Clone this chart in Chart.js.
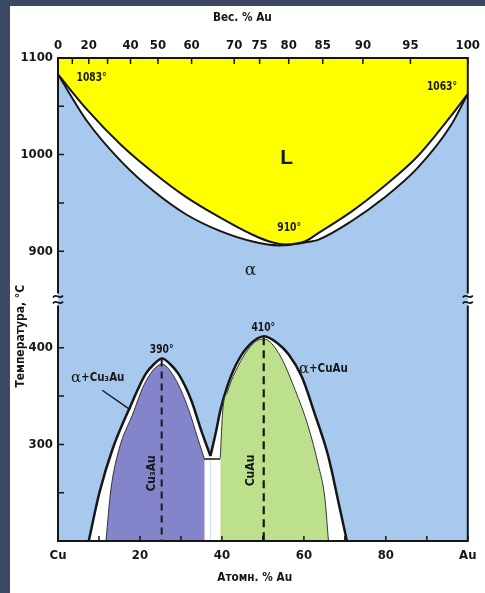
<!DOCTYPE html>
<html>
<head>
<meta charset="utf-8">
<script src="https://cdn.jsdelivr.net/npm/chart.js@4.4.1/dist/chart.umd.min.js"></script>
<style>
  html, body { margin: 0; padding: 0; background: #fff; }
  #wrap { width: 485px; height: 593px; position: relative; }
</style>
</head>
<body>
<div id="wrap"><canvas id="phaseChart"></canvas></div>
<script>
// Cu-Au phase diagram: x = atomic % Au, T = temperature in deg C
const liquidusX = [0, 7.2, 15.4, 23.4, 31.3, 39.5, 47.5, 51.6, 55.4, 60.2, 63.6, 71.6, 79.5, 87.7, 95.7, 100];
const liquidusT = [1083, 1046, 1010, 981, 956, 935, 917, 910, 907, 910, 919, 941, 967, 998, 1039, 1063];
const solidusX = [0, 7.2, 15.4, 23.4, 31.3, 39.5, 47.5, 54, 60.2, 63.6, 71.6, 79.5, 87.7, 95.7, 100];
const solidusT = [1083, 1034, 993, 962, 938, 921, 910, 906, 909, 912, 931, 955, 986, 1029, 1063];

const cu3auOuterX = [7.5, 10.1, 13.3, 17.3, 21.4, 23.4, 25.4, 27.4, 29.4, 32.5, 34.9, 37.2];
const cu3auOuterT = [200, 250, 295, 336, 373, 383, 389, 383, 373, 346, 315, 288];
const cu3auInnerX = [11.7, 12.9, 14.9, 18.1, 21.4, 25.4, 28.6, 31.8, 34.2, 35.8];
const cu3auInnerT = [200, 253, 295, 330, 365, 383, 368, 337, 305, 284];

const cuauOuterX = [37.2, 38.5, 39.6, 41.3, 43.5, 46.5, 50.3, 53.5, 56.3, 59.5, 62.7, 66, 68.4, 70.5];
const cuauOuterT = [288, 312, 335, 360, 383, 402, 412, 405, 393, 370, 331, 287, 241, 200];
const cuauInnerX = [39.6, 40.2, 41.4, 42.7, 47.5, 50.3, 53.9, 57.9, 61.1, 63.5, 65.1, 66];
const cuauInnerT = [286, 335, 355, 370, 404, 409, 394, 356, 318, 279, 245, 200];

const gapTopX = [35.8, 39.6];
const gapTopT = [285, 285];
const cu3auDashX = [25.3, 25.3];
const cu3auDashT = [388, 200];
const cuauDashX = [50.2, 50.2];
const cuauDashT = [411, 200];
const leaderX = [10.8, 17.6];
const leaderT = [356, 336];

// axis ticks
const bottomTicks = [0, 20, 40, 60, 80, 100];
const bottomLabels = ["Cu", "20", "40", "60", "80", "Au"];
const bottomMinor = [10, 30, 50, 70, 90];
const tempTicks = [300, 400, 900, 1000, 1100];
const tempMinor = [250, 350, 950, 1050];
const weightLabels = ["0", "", "20", "", "40", "50", "60", "70", "75", "80", "85", "90", "95", "100"];
const weightAtPos = [0, 3.5, 7.5, 12.1, 17.7, 24.4, 32.6, 43.0, 49.2, 56.3, 64.6, 74.4, 86.0, 100];

// temperature notes
const noteText = ["1083°", "1063°", "910°", "390°", "410°"];
const noteX = [8.2, 93.7, 56.4, 25.3, 50.1];
const noteT = [1079, 1070, 924, 398, 421];

// the temperature axis skips 450..850, so the upper part is shifted down by 400
const toAxis = t => (t >= 800 ? t - 400 : t);
const fromAxis = v => (v > 450 ? v + 400 : v);

const FONT = "'Liberation Sans Narrow', 'DejaVu Sans Condensed', 'Liberation Sans', sans-serif";
const INK = "#161616";
const BLUE = "#a7c9ed";
const YELLOW = "#ffff00";
const PURPLE = "#8484cb";
const GREEN = "#bde08c";

function curve(xs, ts, opts) {
  return Object.assign({
    data: xs.map((x, i) => ({ x: x, y: toAxis(ts[i]) })),
    xAxisID: "x",
    yAxisID: "y",
    borderColor: INK,
    borderWidth: 2,
    pointRadius: 0,
    cubicInterpolationMode: "monotone",
    fill: false,
  }, opts);
}

function drawText(ctx, text, x, y, o) {
  ctx.save();
  ctx.translate(x, y);
  if (o.rotate) ctx.rotate(o.rotate);
  ctx.scale(o.squeeze || 1, 1);
  ctx.font = o.font;
  ctx.fillStyle = INK;
  ctx.textAlign = o.align || "center";
  ctx.textBaseline = "middle";
  ctx.fillText(text, 0, 0);
  ctx.restore();
}

const backdrop = {
  id: "backdrop",
  beforeDraw(chart) {
    const { ctx, chartArea: a } = chart;
    ctx.save();
    ctx.fillStyle = "#fff";
    ctx.fillRect(0, 0, chart.width, chart.height);
    ctx.fillStyle = "#3c4965";
    ctx.fillRect(0, 0, 10, chart.height);
    ctx.fillRect(0, 0, chart.width, 6);
    ctx.fillStyle = BLUE;
    ctx.fillRect(a.left, a.top, a.right - a.left, a.bottom - a.top);
    ctx.restore();
  },
};

const frame = {
  id: "frame",
  afterDatasetsDraw(chart) {
    const { ctx, chartArea: a, scales } = chart;
    const xs = scales.x, ys = scales.y;
    const yb = ys.getPixelForValue(450);
    ctx.save();
    ctx.strokeStyle = INK;
    ctx.lineWidth = 2;
    ctx.beginPath();
    ctx.moveTo(a.left, yb - 6); ctx.lineTo(a.left, a.top); ctx.lineTo(a.right, a.top); ctx.lineTo(a.right, yb - 6);
    ctx.moveTo(a.left, yb + 6); ctx.lineTo(a.left, a.bottom); ctx.lineTo(a.right, a.bottom); ctx.lineTo(a.right, yb + 6);
    ctx.stroke();

    // axis break marks
    ctx.lineWidth = 1.7;
    [a.left, a.right].forEach(x0 => {
      [-3, 3].forEach(dy => {
        ctx.beginPath();
        ctx.moveTo(x0 - 5, yb + dy + 1);
        ctx.bezierCurveTo(x0 - 2, yb + dy - 4, x0 + 2, yb + dy + 4, x0 + 5, yb + dy - 1);
        ctx.stroke();
      });
    });

    // inward tick marks
    ctx.lineWidth = 1.5;
    ctx.beginPath();
    tempTicks.concat(tempMinor).forEach(t => {
      const y = ys.getPixelForValue(toAxis(t));
      ctx.moveTo(a.left, y); ctx.lineTo(a.left + 6, y);
    });
    bottomTicks.concat(bottomMinor).forEach(v => {
      const x = xs.getPixelForValue(v);
      ctx.moveTo(x, a.bottom); ctx.lineTo(x, a.bottom - 5);
    });
    weightAtPos.forEach(v => {
      const x = scales.x2.getPixelForValue(v);
      ctx.moveTo(x, a.top); ctx.lineTo(x, a.top + 6);
    });
    ctx.stroke();
    ctx.restore();
  },
  afterDraw(chart) {
    const { ctx, chartArea: a, scales } = chart;
    const xs = scales.x, ys = scales.y;
    const P = (x, t) => [xs.getPixelForValue(x), ys.getPixelForValue(toAxis(t))];

    noteText.forEach((txt, i) => {
      const [px, py] = P(noteX[i], noteT[i]);
      drawText(ctx, txt, px, py, { font: "bold 12px " + FONT, squeeze: 0.85 });
    });

    let [px, py] = P(55.8, 996);
    drawText(ctx, "L", px, py, { font: "bold 21px 'Liberation Sans', sans-serif" });
    [px, py] = P(47, 880);
    drawText(ctx, "α", px, py, { font: "17px 'DejaVu Serif', serif" });

    [px, py] = P(22.8, 270);
    drawText(ctx, "Cu₃Au", px, py, { font: "bold 12px " + FONT, rotate: -Math.PI / 2 });
    [px, py] = P(47, 273);
    drawText(ctx, "CuAu", px, py, { font: "bold 12px " + FONT, rotate: -Math.PI / 2 });

    // two-phase labels: serif alpha followed by bold text
    [[3.2, 369, "+Cu₃Au"], [58.8, 378, "+CuAu"]].forEach(([x, t, rest]) => {
      const [lx, ly] = P(x, t);
      drawText(ctx, "α", lx, ly, { font: "15px 'DejaVu Serif', serif", align: "left" });
      drawText(ctx, rest, lx + 10, ly, { font: "bold 13px " + FONT, align: "left", squeeze: 0.88 });
    });

    // axis titles
    drawText(ctx, "Вес. % Au", scales.x2.getPixelForValue(45), 18, { font: "bold 13px " + FONT, squeeze: 0.9 });
    drawText(ctx, "Атомн. % Au", xs.getPixelForValue(48), a.bottom + 37, { font: "bold 13px " + FONT, squeeze: 0.9 });
    drawText(ctx, "Температура, °C", 21, ys.getPixelForValue(412), { font: "bold 12px " + FONT, rotate: -Math.PI / 2 });
  },
};

const tickFont = { family: FONT, size: 13, weight: "bold" };

new Chart(document.getElementById("phaseChart"), {
  type: "line",
  data: {
    datasets: [
      curve(solidusX, solidusT, { fill: "end", backgroundColor: "#fff", order: 9 }),
      curve(liquidusX, liquidusT, { fill: "end", backgroundColor: YELLOW, order: 8 }),
      curve(cu3auOuterX, cu3auOuterT, { fill: "start", backgroundColor: "#fff", borderWidth: 2.5, order: 7 }),
      curve(cuauOuterX, cuauOuterT, { fill: "start", backgroundColor: "#fff", borderWidth: 2.5, order: 7 }),
      curve(cu3auInnerX, cu3auInnerT, { fill: "start", backgroundColor: PURPLE, borderWidth: 1, borderColor: "#333", order: 6 }),
      curve(cuauInnerX, cuauInnerT, { fill: "start", backgroundColor: GREEN, borderWidth: 1, borderColor: "#333", order: 6 }),
      curve(gapTopX, gapTopT, { borderWidth: 1.5, order: 2 }),
      curve(cu3auDashX, cu3auDashT, { borderWidth: 2, borderDash: [7, 5], cubicInterpolationMode: "default", order: 1 }),
      curve(cuauDashX, cuauDashT, { borderWidth: 2.2, borderDash: [8, 5], cubicInterpolationMode: "default", order: 1 }),
      curve(leaderX, leaderT, { borderWidth: 1.3, order: 1 }),
    ],
  },
  options: {
    responsive: true,
    maintainAspectRatio: false,
    animation: false,
    layout: { padding: { left: 10, right: 12, top: 0, bottom: 0 } },
    plugins: { legend: { display: false }, tooltip: { enabled: false } },
    scales: {
      x: {
        type: "linear",
        position: "bottom",
        min: 0,
        max: 100,
        grid: { display: false, drawTicks: false },
        border: { display: false },
        ticks: {
          color: INK, font: tickFont, padding: 7, autoSkip: false, maxRotation: 0,
          callback: v => bottomLabels[bottomTicks.indexOf(v)],
        },
        afterBuildTicks: s => { s.ticks = bottomTicks.map(v => ({ value: v })); },
        afterFit: s => { s.height = 52; },
      },
      x2: {
        type: "linear",
        axis: "x",
        position: "top",
        min: 0,
        max: 100,
        grid: { display: false, drawTicks: false },
        border: { display: false },
        ticks: {
          color: INK, font: tickFont, padding: 5, autoSkip: false, maxRotation: 0,
          callback: (v, i) => weightLabels[i],
        },
        afterBuildTicks: s => { s.ticks = weightAtPos.map(v => ({ value: v })); },
        afterFit: s => { s.height = 58; },
      },
      y: {
        type: "linear",
        min: 200,
        max: 700,
        grid: { display: false, drawTicks: false },
        border: { display: false },
        ticks: {
          color: INK, font: tickFont, padding: 5, autoSkip: false,
          callback: v => String(fromAxis(v)),
        },
        afterBuildTicks: s => { s.ticks = tempTicks.map(t => ({ value: toAxis(t) })); },
        afterFit: s => { s.width = 48; },
      },
    },
  },
  plugins: [backdrop, frame],
});
</script>
</body>
</html>
